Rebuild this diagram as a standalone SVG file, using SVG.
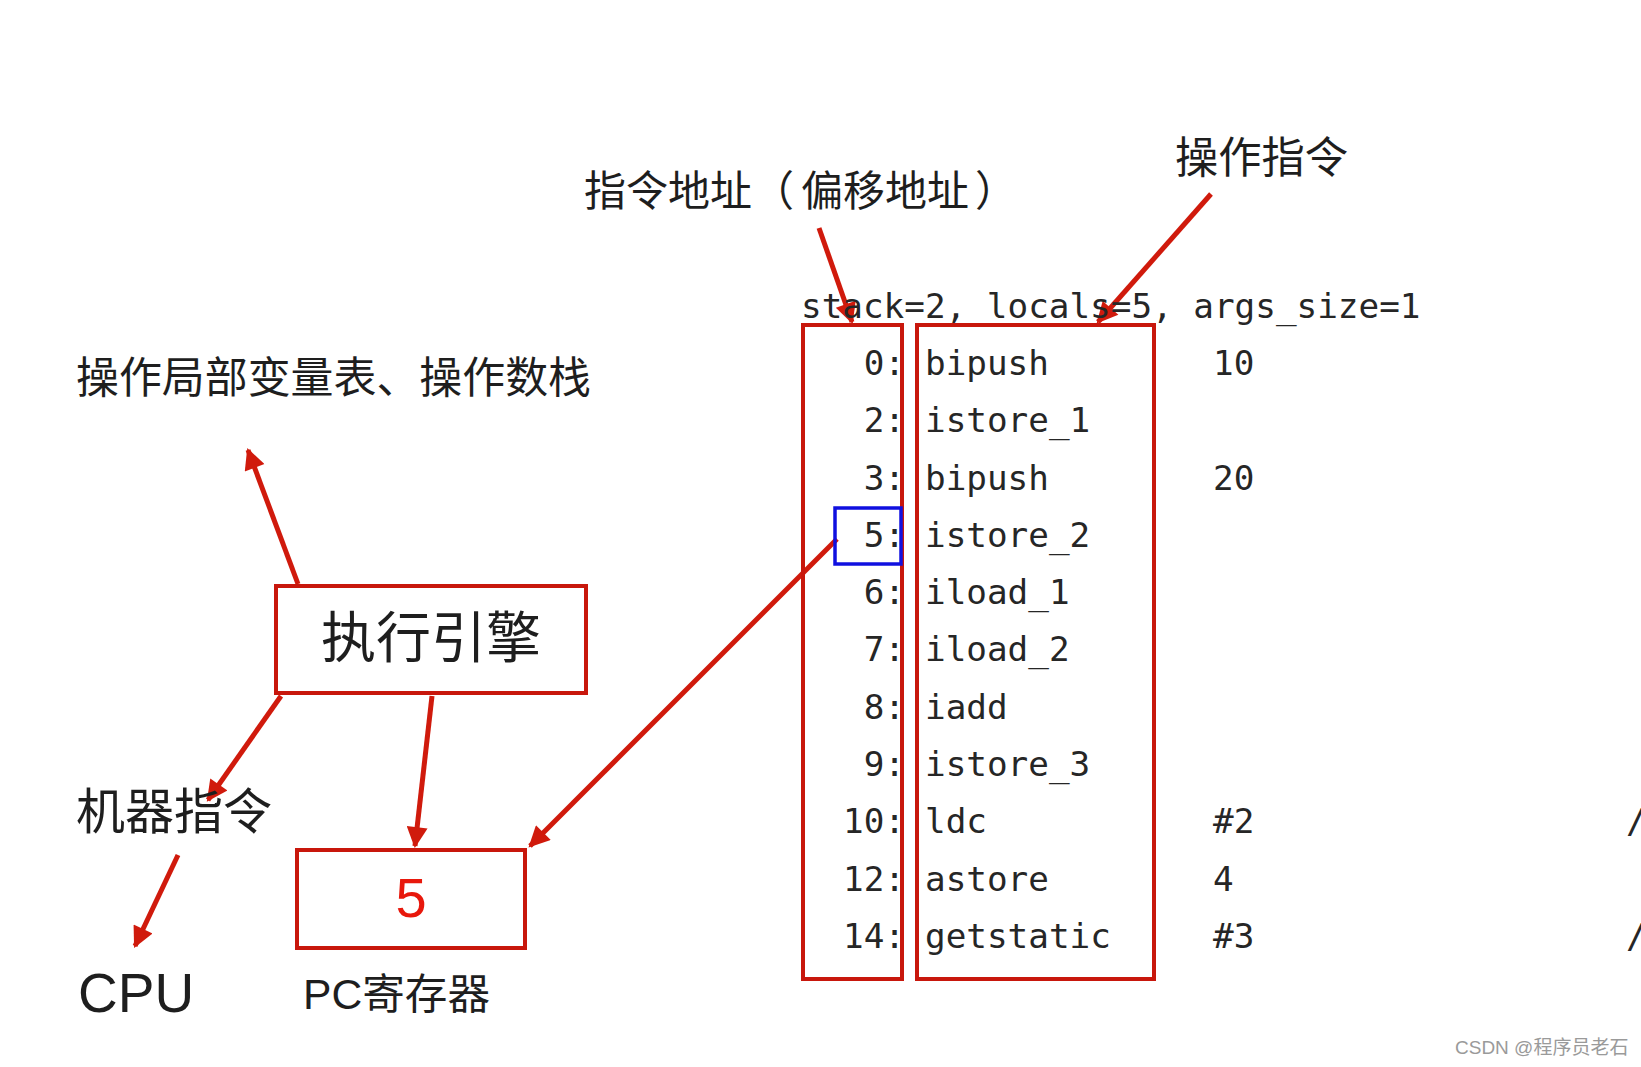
<svg xmlns="http://www.w3.org/2000/svg" width="1641" height="1067" viewBox="0 0 1641 1067">
<defs>
<style>
.cjk{font-family:"Noto Sans CJK SC","Liberation Sans",sans-serif;fill:#1e1e1e}
.code{font-family:"DejaVu Sans Mono","Liberation Mono",monospace;font-size:34.3px;fill:#262626}
.box{fill:none;stroke:#c8170c;stroke-width:4}
.arr{fill:none;stroke:#d01a0c;stroke-width:5;marker-end:url(#ah)}
.sans{font-family:"Liberation Sans",Arial,sans-serif}
</style>
<marker id="ah" viewBox="0 0 10 10" refX="9" refY="5" markerWidth="24" markerHeight="21" markerUnits="userSpaceOnUse" orient="auto">
<path d="M0,0 L10,5 L0,10 Z" fill="#d01a0c"/>
</marker>
</defs>
<rect width="1641" height="1067" fill="#ffffff"/>

<g id="connectors">
<line class="arr" x1="298" y1="584" x2="248" y2="450"/>
<line class="arr" x1="281" y1="696" x2="208" y2="800"/>
<line class="arr" x1="178" y1="855" x2="135" y2="946"/>
<line class="arr" x1="432" y1="696" x2="415" y2="846"/>
<line class="arr" x1="837" y1="539" x2="530" y2="846"/>
<line class="arr" x1="819" y1="228" x2="852" y2="322"/>
<line class="arr" x1="1211" y1="194" x2="1098" y2="322"/>
</g>

<g id="label-local-vars">
<text class="cjk" x="76" y="393" font-size="43" textLength="515" lengthAdjust="spacingAndGlyphs">操作局部变量表、操作数栈</text>
</g>

<g id="node-engine">
<rect class="box" x="276" y="586" width="310" height="107"/>
<text class="cjk" x="431" y="657" font-size="55" text-anchor="middle">执行引擎</text>
</g>

<g id="label-machine">
<text class="cjk" x="76" y="829" font-size="49" textLength="196" lengthAdjust="spacingAndGlyphs">机器指令</text>
</g>

<g id="label-cpu">
<text class="sans" x="78" y="1012" font-size="55" fill="#1e1e1e">CPU</text>
</g>

<g id="node-pc">
<rect class="box" x="297" y="850" width="228" height="98"/>
<text class="sans" x="411" y="917" font-size="56" fill="#e8180c" text-anchor="middle">5</text>
<text class="sans" x="303" y="1009" font-size="42" fill="#1e1e1e" textLength="187" lengthAdjust="spacingAndGlyphs">PC<tspan class="cjk">寄存器</tspan></text>
</g>

<g id="label-address">
<text class="cjk" x="584" y="206" font-size="42">指令地址（<tspan x="801">偏移地址</tspan><tspan x="975">）</tspan></text>
</g>

<g id="label-opcode">
<text class="cjk" x="1175" y="173" font-size="43" textLength="173" lengthAdjust="spacingAndGlyphs">操作指令</text>
</g>

<g id="code">
<text class="code" x="801" y="318">stack=2, locals=5, args_size=1</text>
<g text-anchor="end">
<text class="code" x="905" y="375">0:</text>
<text class="code" x="905" y="432">2:</text>
<text class="code" x="905" y="490">3:</text>
<text class="code" x="905" y="547">5:</text>
<text class="code" x="905" y="604">6:</text>
<text class="code" x="905" y="661">7:</text>
<text class="code" x="905" y="719">8:</text>
<text class="code" x="905" y="776">9:</text>
<text class="code" x="905" y="833">10:</text>
<text class="code" x="905" y="891">12:</text>
<text class="code" x="905" y="948">14:</text>
</g>
<text class="code" x="925" y="375">bipush</text>
<text class="code" x="925" y="432">istore_1</text>
<text class="code" x="925" y="490">bipush</text>
<text class="code" x="925" y="547">istore_2</text>
<text class="code" x="925" y="604">iload_1</text>
<text class="code" x="925" y="661">iload_2</text>
<text class="code" x="925" y="719">iadd</text>
<text class="code" x="925" y="776">istore_3</text>
<text class="code" x="925" y="833">ldc</text>
<text class="code" x="925" y="891">astore</text>
<text class="code" x="925" y="948">getstatic</text>
<text class="code" x="1213" y="375">10</text>
<text class="code" x="1213" y="490">20</text>
<text class="code" x="1213" y="833">#2</text>
<text class="code" x="1213" y="891">4</text>
<text class="code" x="1213" y="948">#3</text>
<text class="code" x="1626" y="833" fill="#1f3550">//</text>
<text class="code" x="1626" y="948" fill="#1f3550">//</text>
</g>

<g id="node-address-col">
<rect class="box" x="803" y="325" width="99" height="654"/>
</g>
<g id="node-opcode-col">
<rect class="box" x="917" y="325" width="237" height="654"/>
</g>
<g id="node-current">
<rect x="835" y="508" width="66" height="56" fill="none" stroke="#1010e0" stroke-width="3.5"/>
</g>

<g id="watermark">
<text x="1455" y="1054" font-size="19" fill="#9a9a9a" font-family="Liberation Sans,Noto Sans CJK SC,sans-serif">CSDN @程序员老石</text>
</g>
</svg>
